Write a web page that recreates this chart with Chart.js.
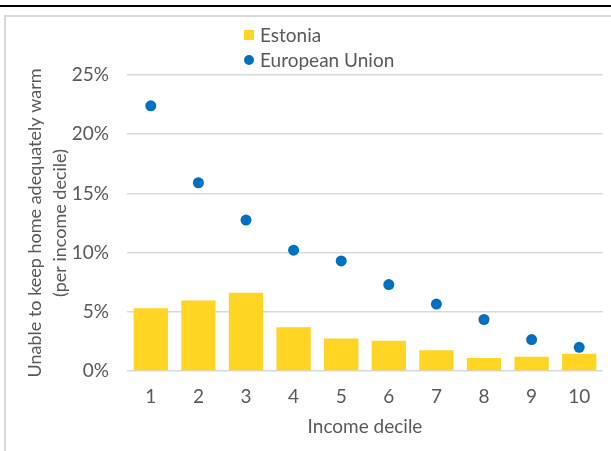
<!DOCTYPE html>
<html>
<head>
<meta charset="utf-8">
<script src="https://cdn.jsdelivr.net/npm/chart.js@4"></script>
<style>
  html, body { margin: 0; padding: 0; background: #fff; }
  #wrap { position: relative; width: 611px; height: 451px; overflow: hidden; }
  #topLine { position: absolute; left: 0; top: 5px; width: 611px; height: 2px; background: #000; }
  #frame { position: absolute; left: 4px; top: 15px; width: 620px; height: 450px;
           border-left: 2px solid #d9d9d9; border-top: 2px solid #d9d9d9; }
  #chartBox { position: absolute; left: 0; top: 0; width: 611px; height: 451px; }
  #legend { position: absolute; left: 244px; top: 22px; font-family: Lato, sans-serif;
            font-size: 19px; color: #595959; }
  .leg-item { display: flex; align-items: center; height: 25px; }
  .leg-mark { width: 10px; height: 10px; margin-right: 6px; }
</style>
</head>
<body>
<div id="wrap">
  <div id="topLine"></div>
  <div id="frame"></div>
  <div id="chartBox"><canvas id="chart"></canvas></div>
  <div id="legend"></div>
</div>
<script>
const deciles = ["1", "2", "3", "4", "5", "6", "7", "8", "9", "10"];

// per cent of households unable to keep home warm
const estonia = [5.3, 5.95, 6.6, 3.7, 2.75, 2.55, 1.75, 1.1, 1.2, 1.45];
const europeanUnion = [22.4, 15.9, 12.75, 10.2, 9.3, 7.3, 5.65, 4.35, 2.65, 2.0];

const yTicks = [0, 5, 10, 15, 20, 25];

const TEXT = "#595959";
const GRID = "#d9d9d9";
const YELLOW = "#ffd422";
const BLUE = "#0070c0";
const FONT = "Lato, sans-serif";

const ctx = document.getElementById("chart").getContext("2d");

const chart = new Chart(ctx, {
  type: "bar",
  data: {
    labels: deciles,
    datasets: [
      {
        type: "line",
        label: "European Union",
        data: europeanUnion,
        showLine: false,
        pointRadius: 5.5,
        pointHoverRadius: 5.5,
        pointBackgroundColor: BLUE,
        pointBorderWidth: 0,
        borderColor: BLUE,
        order: 0
      },
      {
        label: "Estonia",
        data: estonia,
        backgroundColor: YELLOW,
        barPercentage: 0.72,
        categoryPercentage: 1,
        order: 1
      }
    ]
  },
  options: {
    responsive: true,
    maintainAspectRatio: false,
    animation: false,
    layout: {
      padding: { top: 75, right: 8, left: 8, bottom: 0 }
    },
    plugins: {
      legend: { display: false },
      tooltip: { enabled: false }
    },
    scales: {
      x: {
        grid: { display: false, drawTicks: false },
        border: { display: false },
        ticks: {
          color: TEXT,
          padding: 14,
          font: { family: FONT, size: 19 }
        },
        title: {
          display: true,
          text: "Income decile",
          color: TEXT,
          padding: { top: 0, bottom: 13 },
          font: { family: FONT, size: 19 }
        },
        afterFit(scale) {
          scale.height = 80;
        }
      },
      y: {
        min: 0,
        max: 25,
        afterBuildTicks(scale) {
          scale.ticks = yTicks.map(v => ({ value: v }));
        },
        grid: { color: GRID, lineWidth: 1.5, drawTicks: false },
        border: { display: false },
        ticks: {
          color: TEXT,
          padding: 18,
          font: { family: FONT, size: 19 },
          callback: v => v + "%"
        },
        title: {
          display: true,
          text: ["Unable to keep home adequately warm", "(per income decile)"],
          color: TEXT,
          padding: { top: 15, bottom: 0 },
          font: { family: FONT, size: 18, lineHeight: 1.38 }
        },
        afterFit(scale) {
          scale.width = 119;
        }
      }
    }
  }
});

// legend, stacked vertically like the original
const legend = document.getElementById("legend");
[chart.data.datasets[1], chart.data.datasets[0]].forEach(ds => {
  const item = document.createElement("div");
  item.className = "leg-item";
  const mark = document.createElement("span");
  mark.className = "leg-mark";
  if (ds.type === "line") {
    mark.style.background = ds.pointBackgroundColor;
    mark.style.borderRadius = "50%";
  } else {
    mark.style.background = ds.backgroundColor;
  }
  const label = document.createElement("span");
  label.textContent = ds.label;
  item.appendChild(mark);
  item.appendChild(label);
  legend.appendChild(item);
});
</script>
</body>
</html>
